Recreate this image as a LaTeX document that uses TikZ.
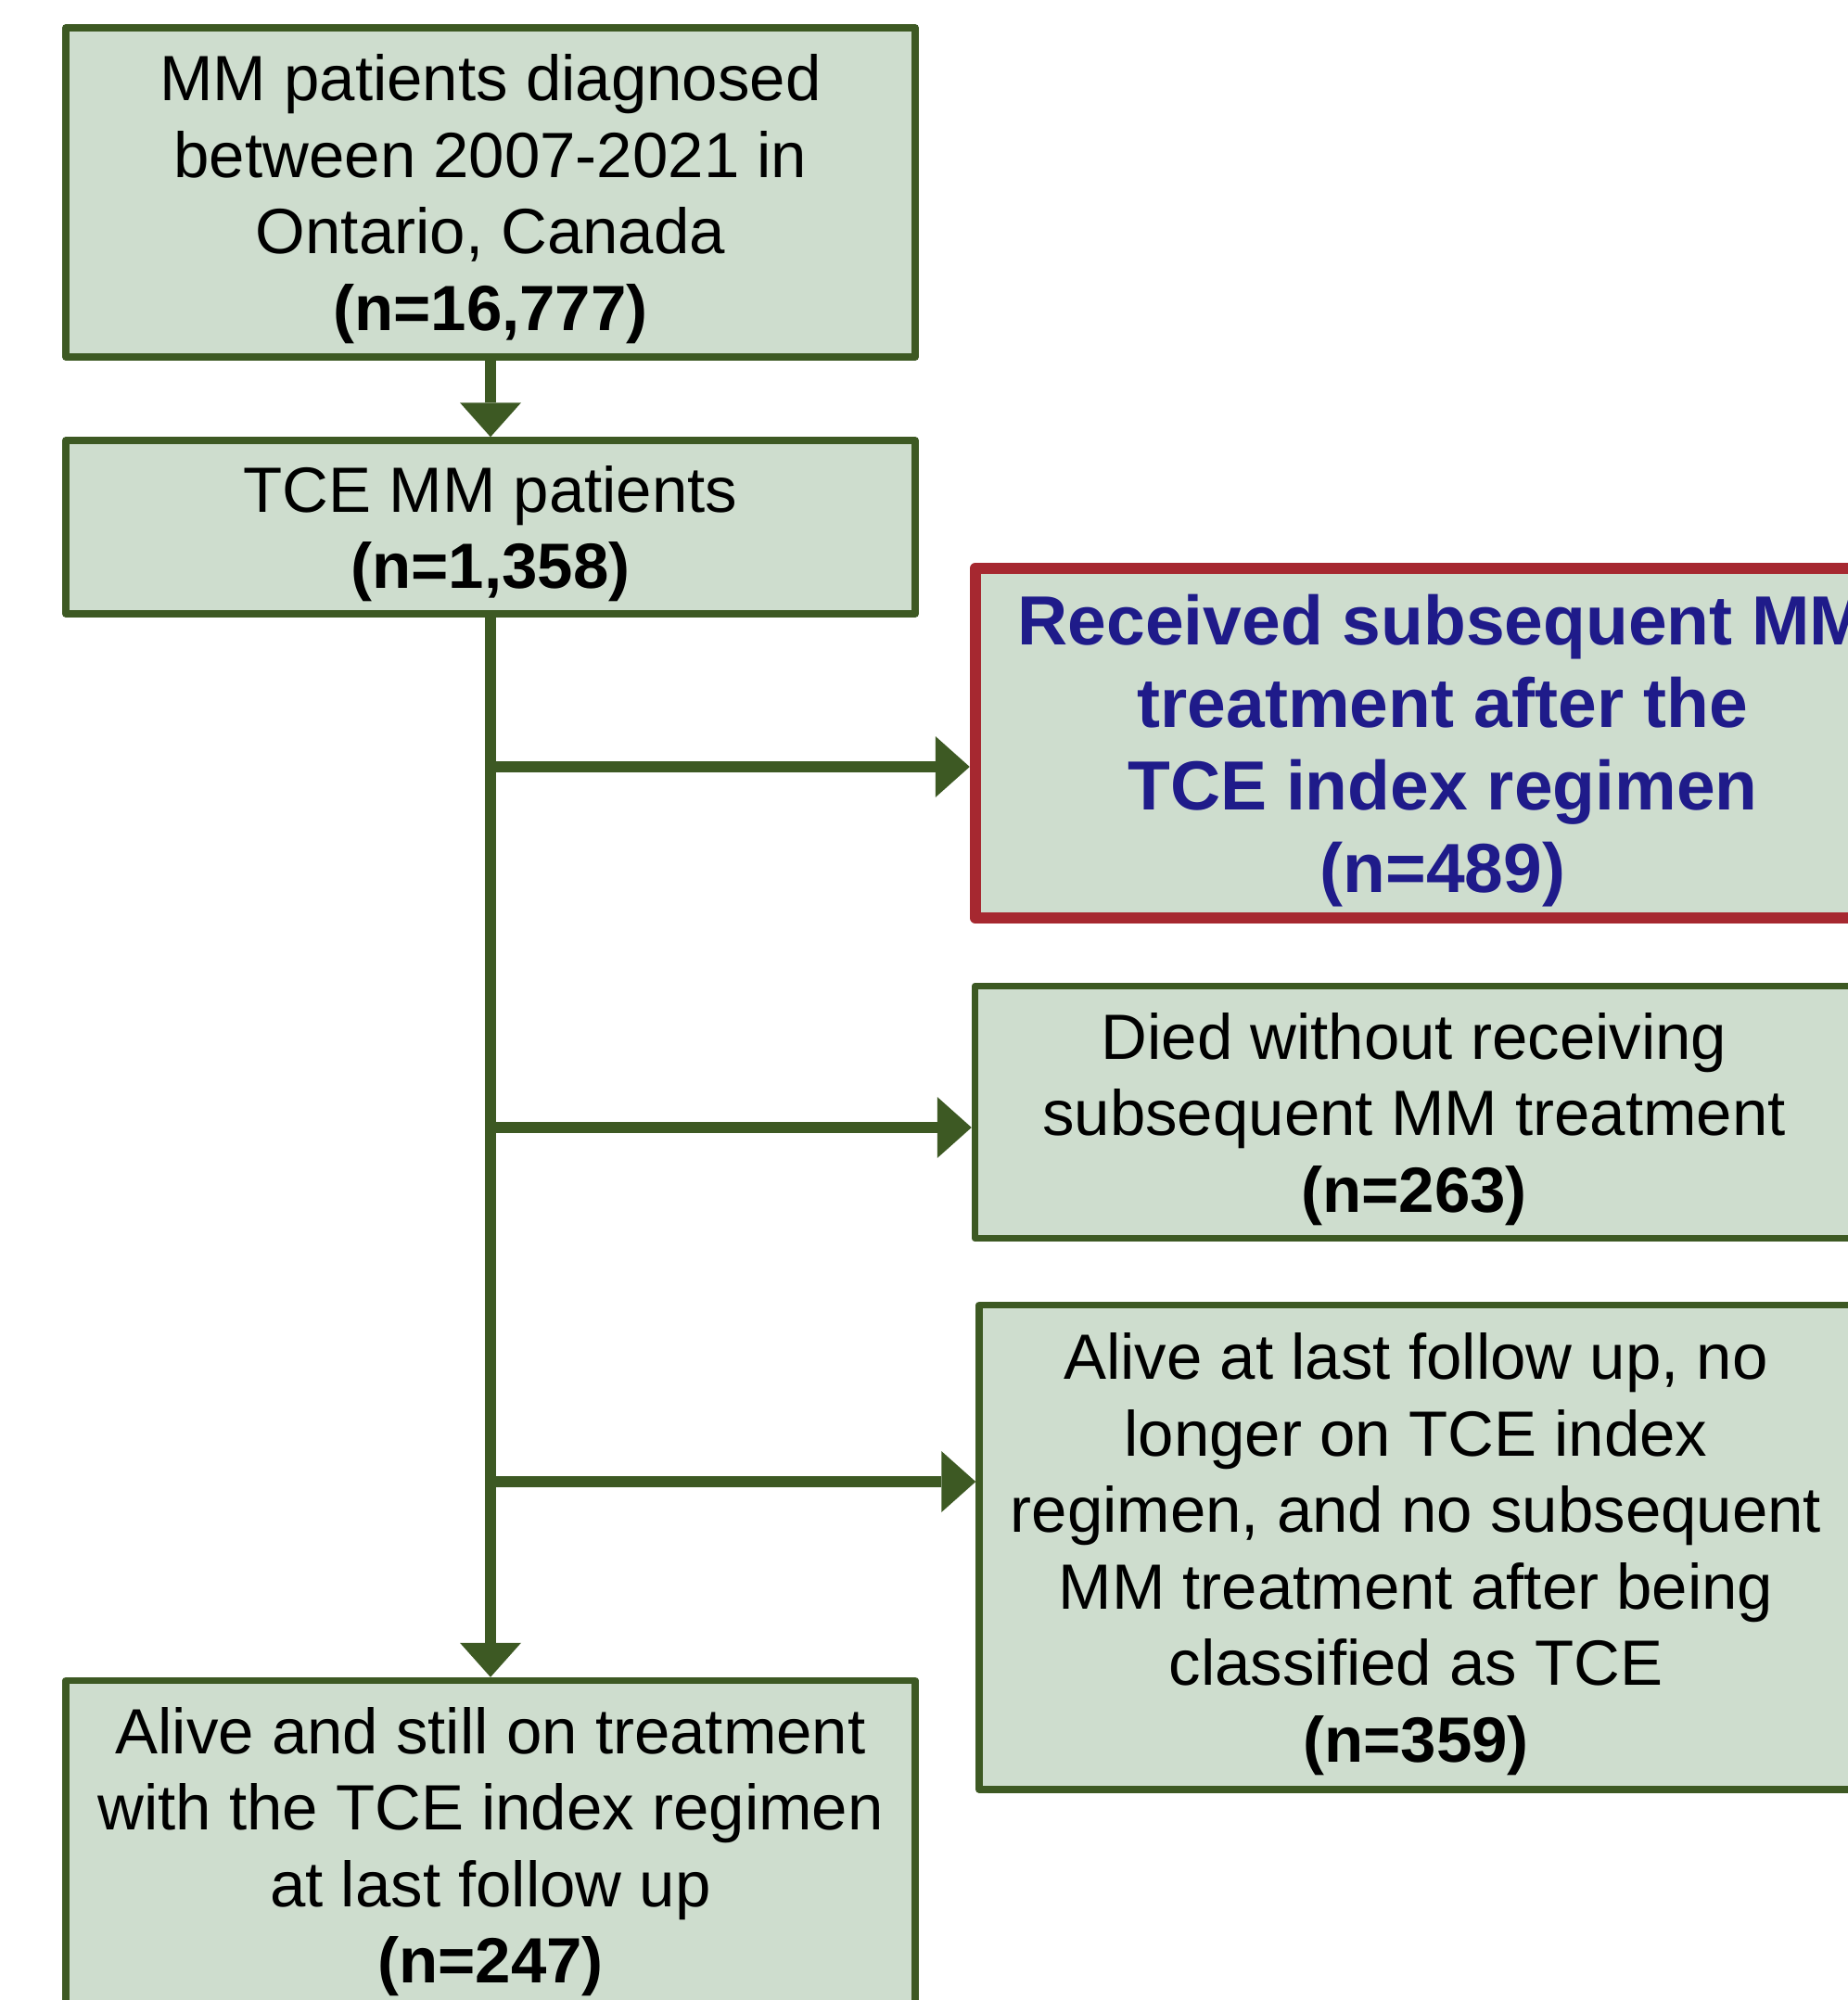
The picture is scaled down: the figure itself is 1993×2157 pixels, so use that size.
\documentclass[tikz,border=0pt]{standalone}
\usepackage{fontspec}
\setmainfont{Liberation Sans}
\usetikzlibrary{arrows.meta}
\definecolor{boxfill}{RGB}{206,221,206}
\definecolor{boxline}{RGB}{61,89,35}
\definecolor{redline}{RGB}{166,40,48}
\definecolor{bluetext}{RGB}{31,27,138}
\begin{document}
\begin{tikzpicture}[x=1pt,y=-1pt,
  gbox/.style={draw=boxline, fill=boxfill, line width=7.5pt, line join=round,
    inner sep=0pt, align=center, text depth=0pt,
    font=\fontsize{69}{82.5}\selectfont},
  rbox/.style={gbox, draw=redline, line width=12.5pt, text=bluetext,
    font=\fontsize{75}{89}\selectfont\bfseries},
  conn/.style={draw=boxline, line width=12pt,
    -{Triangle[length=37pt,width=66pt,line width=0pt]}}]
\useasboundingbox (0,0) rectangle (1993,2157);
\clip (0,0) rectangle (1993,2157);

\node[gbox, minimum width=916pt, minimum height=355pt] (b1) at (529,207.5)
  {MM patients diagnosed\\between 2007-2021 in\\Ontario, Canada\\\textbf{(n=16,777)}};
\node[gbox, minimum width=916pt, minimum height=187pt] (b2) at (529,568.5)
  {TCE MM patients\\\textbf{(n=1,358)}};
\node[rbox, minimum width=1008pt, minimum height=377pt] (red) at (1556,801.5)
  {Received subsequent MM\\treatment after the\\TCE index regimen\\(n=489)};
\node[gbox, minimum width=947pt, minimum height=272pt] (died) at (1525,1199.5)
  {Died without receiving\\subsequent MM treatment\\\textbf{(n=263)}};
\node[gbox, minimum width=942pt, minimum height=522.5pt] (alive) at (1527,1668.75)
  {Alive at last follow up, no\\longer on TCE index\\regimen, and no subsequent\\MM treatment after being\\classified as TCE\\\textbf{(n=359)}};
\node[gbox, minimum width=916pt, minimum height=355pt] (b5) at (529,1990)
  {Alive and still on treatment\\with the TCE index regimen\\at last follow up\\\textbf{(n=247)}};

\coordinate (j1) at (529,827);
\coordinate (j2) at (529,1216);
\coordinate (j3) at (529,1598);

\draw[conn] (b1) -- (b2);
\draw[conn] (b2) -- (b5);
\draw[conn] (j1) -- (j1 -| red.west);
\draw[conn] (j2) -- (j2 -| died.west);
\draw[conn] (j3) -- (j3 -| alive.west);
\end{tikzpicture}
\end{document}
